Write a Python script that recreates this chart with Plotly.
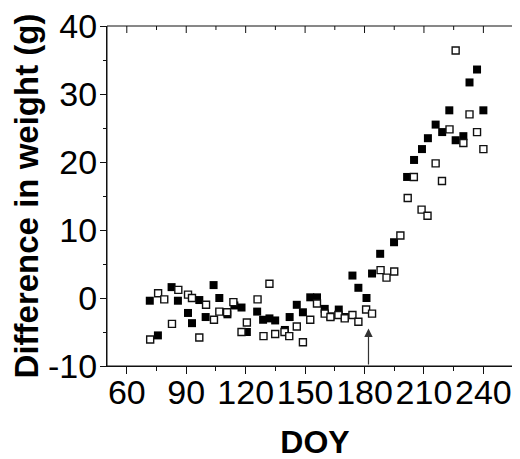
import plotly.graph_objects as go

# DOY and weight difference (g) — filled squares
doy_filled = [71.6, 75.7, 82.6, 85.8, 90.9, 92.9, 96.6, 99.8, 103.8, 106.7,
              110.8, 114.3, 117.9, 120.6, 125.8, 128.8, 132.0, 134.9, 139.8, 142.2,
              145.8, 148.9, 152.6, 156.0, 159.9, 162.8, 167.0, 170.1, 173.9, 176.9,
              181.0, 183.8, 187.9, 194.9, 201.5, 205.0, 209.0, 212.0, 215.9, 219.2,
              222.8, 226.0, 229.9, 233.0, 236.8, 240.0]
diff_filled = [-0.4, -5.5, 1.6, -0.4, -2.2, -3.7, -0.3, -2.8, 1.9, 0.0,
               -2.4, -1.1, -1.4, -5.0, -2.0, -3.2, -3.0, -3.3, -4.7, -2.8,
               -1.0, -2.1, 0.1, 0.1, -1.6, -2.7, -1.7, -2.8, 3.3, 1.5,
               0.0, 3.6, 6.5, 8.2, 17.8, 20.3, 21.9, 23.5, 25.5, 24.4,
               27.6, 23.2, 23.8, 31.7, 33.6, 27.6]

# open squares
doy_open = [71.8, 75.8, 78.9, 82.8, 86.0, 90.9, 92.9, 96.6, 100.0, 104.0,
            106.7, 110.6, 113.8, 117.9, 120.6, 126.0, 129.0, 132.0, 134.9, 139.6,
            142.0, 145.8, 148.9, 152.6, 156.0, 159.9, 162.8, 166.8, 170.0, 173.9,
            176.9, 180.8, 183.8, 188.1, 191.1, 195.0, 198.1, 201.8, 204.9, 208.8,
            211.8, 215.9, 219.1, 222.9, 226.0, 229.9, 233.0, 236.8, 240.0]
diff_open = [-6.1, 0.7, -0.2, -3.8, 1.2, 0.5, 0.0, -5.8, -1.0, -3.2,
             -2.0, -2.1, -0.6, -5.0, -3.6, -0.2, -5.6, 2.1, -5.3, -5.0,
             -5.6, -4.2, -6.5, -3.2, -0.8, -2.3, -2.8, -2.5, -3.0, -2.5,
             -3.5, -1.7, -2.3, 4.1, 3.0, 3.9, 9.2, 14.7, 17.8, 13.0,
             12.1, 19.8, 17.2, 24.8, 36.4, 22.8, 27.0, 24.4, 21.9]

x_ticks = [60, 90, 120, 150, 180, 210, 240]
x_minor = [75, 105, 135, 165, 195, 225, 255]
y_ticks = [-10, 0, 10, 20, 30, 40]
y_minor = [-5, 5, 15, 25, 35]
arrow_doy = 182
arrow_tip = -4.5

X_RANGE = [50, 260]
Y_RANGE = [-10, 40]
LINE = "#111111"
FONT = "Liberation Sans, Arial, sans-serif"
PLOT_W = 416.0   # plot area width in px (520 - 99 - 5)
PLOT_H = 340.0   # plot area height in px (459 - 18 - 101)

fig = go.Figure()
fig.add_trace(go.Scatter(
    x=doy_filled, y=diff_filled, mode="markers", name="filled",
    marker=dict(symbol="square", size=8, color="#000000", line=dict(width=0))))
fig.add_trace(go.Scatter(
    x=doy_open, y=diff_open, mode="markers", name="open",
    marker=dict(symbol="square", size=7, color="#ffffff",
                line=dict(width=1.4, color="#111111"))))

fig.add_annotation(x=arrow_doy, y=arrow_tip, ax=arrow_doy, ay=Y_RANGE[0],
                   xref="x", yref="y", axref="x", ayref="y",
                   showarrow=True, arrowhead=2, arrowsize=1.4, arrowwidth=1.2,
                   arrowcolor="#333333", text="", standoff=0)

line_style = dict(color=LINE, width=1)
# frame: left, bottom, top
fig.add_shape(type="line", xref="paper", yref="paper", x0=0, x1=0, y0=0, y1=1, line=line_style, layer="above")
fig.add_shape(type="line", xref="paper", yref="paper", x0=0, x1=1, y0=0, y1=0, line=line_style, layer="above")
fig.add_shape(type="line", xref="paper", yref="paper", x0=0, x1=1, y0=1, y1=1, line=line_style, layer="above")
# inward ticks on the top edge
for v in x_ticks:
    fig.add_shape(type="line", xref="x", yref="paper", x0=v, x1=v, y0=1, y1=1 - 7 / PLOT_H,
                  line=line_style, layer="above")
for v in x_minor:
    fig.add_shape(type="line", xref="x", yref="paper", x0=v, x1=v, y0=1, y1=1 - 4 / PLOT_H,
                  line=line_style, layer="above")
# inward ticks on the right edge
for v in y_ticks:
    fig.add_shape(type="line", xref="paper", yref="y", x0=1, x1=1 - 6 / PLOT_W, y0=v, y1=v,
                  line=line_style, layer="above")
for v in y_minor:
    fig.add_shape(type="line", xref="paper", yref="y", x0=1, x1=1 - 3 / PLOT_W, y0=v, y1=v,
                  line=line_style, layer="above")

fig.update_layout(
    width=520, height=459,
    margin=dict(l=99, r=5, t=18, b=101),
    paper_bgcolor="white", plot_bgcolor="white",
    showlegend=False,
    font=dict(family=FONT, size=34, color="#000000"),
    xaxis=dict(
        range=X_RANGE, tickvals=x_ticks, ticktext=[str(v) for v in x_ticks],
        showline=True, linecolor=LINE, linewidth=1,
        ticks="outside", ticklen=7, tickwidth=1, tickcolor=LINE,
        minor=dict(tickvals=x_minor, ticks="outside", ticklen=4, tickcolor=LINE),
        showgrid=False, zeroline=False, automargin=False,
        ticklabeloverflow="allow", ticklabelstandoff=-11,
        tickfont=dict(size=34, family=FONT),
        title=dict(text="<b>DOY</b>", font=dict(size=32, family=FONT), standoff=20),
    ),
    yaxis=dict(
        range=Y_RANGE, tickvals=y_ticks, ticktext=[str(v) for v in y_ticks],
        showline=True, linecolor=LINE, linewidth=1,
        ticks="outside", ticklen=6, tickwidth=1, tickcolor=LINE,
        minor=dict(tickvals=y_minor, ticks="outside", ticklen=3, tickcolor=LINE),
        showgrid=False, zeroline=False, automargin=False,
        ticklabeloverflow="allow", ticklabelstandoff=-4,
        tickfont=dict(size=34, family=FONT),
        title=dict(text="<b>Difference in weight (g)</b>", font=dict(size=33, family=FONT), standoff=4),
    ),
)

fig.write_html("out.html")
